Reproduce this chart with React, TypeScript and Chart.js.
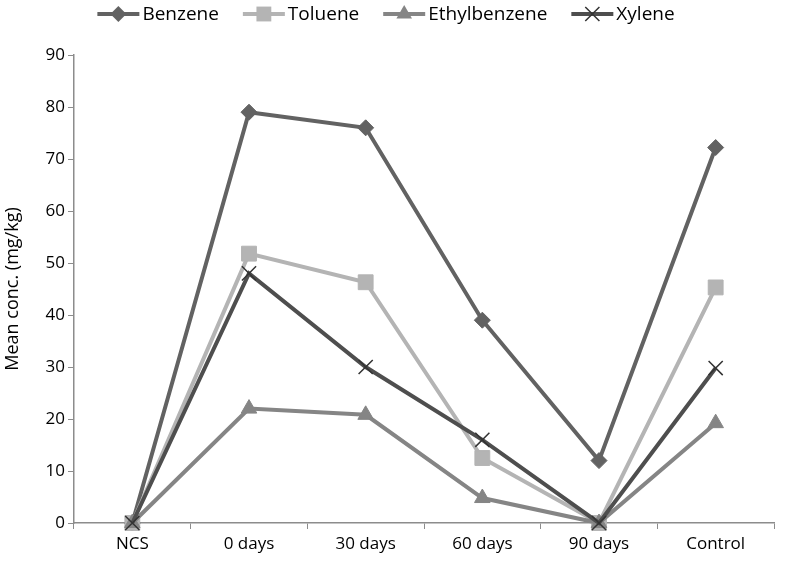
import React, { useEffect, useRef } from "react";
import { Chart, registerables } from "chart.js";

Chart.register(...registerables);

const categories = ["NCS", "0 days", "30 days", "60 days", "90 days", "Control"];
const benzene = [0, 79, 76, 39, 12, 72.2];
const toluene = [0, 51.8, 46.3, 12.5, 0, 45.3];
const ethylbenzene = [0, 22, 20.8, 4.8, 0, 19.2];
const xylene = [0, 48, 30, 16, 0, 29.8];
const yTicks = [0, 10, 20, 30, 40, 50, 60, 70, 80, 90];

const FONT = "'Open Sans', sans-serif";

const seriesStyle = [
  { label: "Benzene", data: benzene, color: "#626262", style: "rectRot", radius: 8, order: 3 },
  { label: "Toluene", data: toluene, color: "#b4b4b4", style: "rect", radius: 10.5, order: 2 },
  { label: "Ethylbenzene", data: ethylbenzene, color: "#858585", style: "triangle", radius: 9, order: 1 },
  { label: "Xylene", data: xylene, color: "#4e4e4e", style: "crossRot", radius: 10, order: 0 },
];

function drawMarker(ctx: CanvasRenderingContext2D, style: string, r: number, x: number, y: number) {
  ctx.beginPath();
  if (style === "rectRot") {
    ctx.moveTo(x, y - r);
    ctx.lineTo(x + r, y);
    ctx.lineTo(x, y + r);
    ctx.lineTo(x - r, y);
    ctx.closePath();
    ctx.fill();
  } else if (style === "rect") {
    const s = r * Math.SQRT1_2;
    ctx.rect(x - s, y - s, 2 * s, 2 * s);
    ctx.fill();
  } else if (style === "triangle") {
    ctx.moveTo(x, y - r);
    ctx.lineTo(x + r * Math.sin((2 * Math.PI) / 3), y - r * Math.cos((2 * Math.PI) / 3));
    ctx.lineTo(x - r * Math.sin((2 * Math.PI) / 3), y - r * Math.cos((2 * Math.PI) / 3));
    ctx.closePath();
    ctx.fill();
  } else {
    const s = r * Math.SQRT1_2;
    ctx.strokeStyle = "#333";
    ctx.moveTo(x - s, y - s);
    ctx.lineTo(x + s, y + s);
    ctx.moveTo(x + s, y - s);
    ctx.lineTo(x - s, y + s);
    ctx.stroke();
  }
}

const legendPlugin = {
  id: "customLegend",
  afterDraw(chart: any) {
    const ctx = chart.ctx;
    ctx.save();
    ctx.font = `19px ${FONT}`;
    const lineW = 42;
    const gapText = 3;
    const gapItem = 24;
    const widths = seriesStyle.map((s) => lineW + gapText + ctx.measureText(s.label).width);
    const total = widths.reduce((a, b) => a + b, 0) + gapItem * (widths.length - 1);
    let x = 386 - total / 2;
    const y = 14;
    seriesStyle.forEach((s, i) => {
      ctx.strokeStyle = s.color;
      ctx.lineWidth = 4;
      ctx.beginPath();
      ctx.moveTo(x, y);
      ctx.lineTo(x + lineW, y);
      ctx.stroke();
      const cx = x + lineW / 2;
      ctx.fillStyle = s.color;
      ctx.strokeStyle = s.color;
      ctx.lineWidth = 1.5;
      drawMarker(ctx, s.style, s.radius, cx, y);
      ctx.fillStyle = "#000";
      ctx.textBaseline = "middle";
      ctx.textAlign = "left";
      ctx.fillText(s.label, x + lineW + gapText, y + 1);
      x += widths[i] + gapItem;
    });
    ctx.restore();
  },
};

export default function App() {
  const ref = useRef<HTMLCanvasElement | null>(null);
  useEffect(() => {
    document.body.style.margin = "0";
    if (!ref.current) return;
    const chart = new Chart(ref.current, {
      type: "line",
      data: {
        labels: categories,
        datasets: seriesStyle.map((s) => ({
          label: s.label,
          data: s.data,
          borderColor: s.color,
          backgroundColor: s.color,
          borderWidth: 4,
          pointStyle: s.style as any,
          pointRadius: s.radius,
          pointBorderWidth: s.style === "crossRot" ? 1.5 : 1,
          pointBorderColor: s.style === "crossRot" ? "#333" : s.color,
          pointBackgroundColor: s.color,
          tension: 0,
          order: s.order,
          clip: false as any,
        })),
      },
      options: {
        animation: false,
        responsive: false,
        maintainAspectRatio: false,
        layout: { padding: { top: 55, right: 12, left: 2, bottom: 0 } },
        plugins: { legend: { display: false }, tooltip: { enabled: false } },
        scales: {
          x: {
            offset: true,
            grid: { display: true, drawOnChartArea: false, offset: true, color: "#8c8c8c", tickLength: 6, lineWidth: 1 },
            border: { display: true, color: "#8c8c8c", width: 1.5 },
            ticks: { color: "#000", font: { family: FONT, size: 17 }, padding: 5, maxRotation: 0 },
            afterFit: (s: any) => { s.height = 40; },
          },
          y: {
            min: 0,
            max: 90,
            afterBuildTicks: (s: any) => { s.ticks = yTicks.map((v) => ({ value: v })); },
            grid: { display: true, drawOnChartArea: false, color: "#8c8c8c", tickLength: 6, lineWidth: 1 },
            border: { display: true, color: "#8c8c8c", width: 1.5 },
            ticks: { color: "#000", font: { family: FONT, size: 17 }, padding: 3 },
            title: { display: true, text: "Mean conc. (mg/kg)", color: "#000", font: { family: FONT, size: 18 }, padding: { top: 0, bottom: 2 } },
            afterFit: (s: any) => { s.width = 72; },
          },
        },
      },
      plugins: [legendPlugin],
    });
    return () => chart.destroy();
  }, []);
  return (
    <div style={{ width: 786, height: 563 }}>
      <canvas ref={ref} width={786} height={563} style={{ width: 786, height: 563, display: "block" }} />
    </div>
  );
}
